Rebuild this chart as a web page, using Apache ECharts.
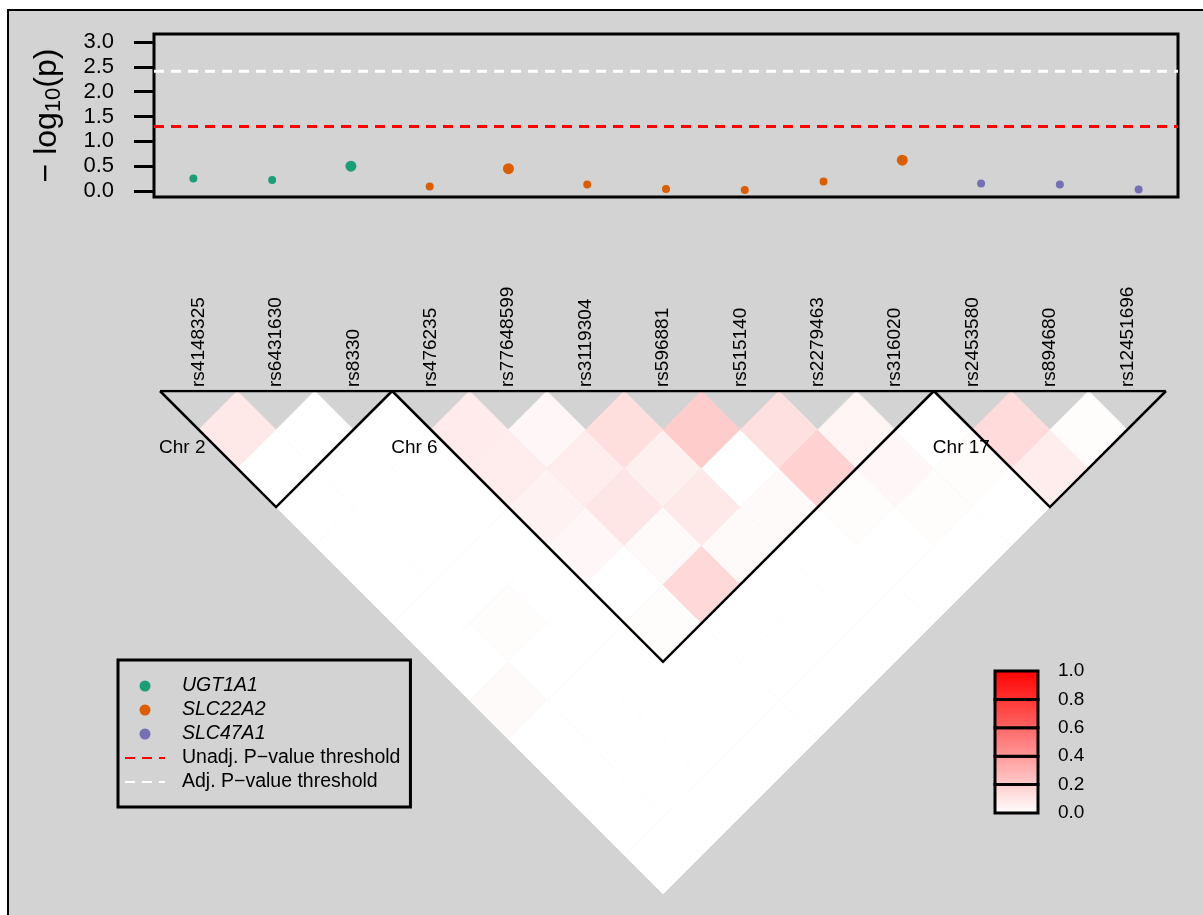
<!DOCTYPE html>
<html>
<head>
<meta charset="utf-8">
<script src="https://cdn.jsdelivr.net/npm/echarts@6/dist/echarts.min.js"></script>
<style>
  html, body { margin: 0; padding: 0; background: #fff; }
  #chart { width: 1203px; height: 915px; }
</style>
</head>
<body>
<div id="chart"></div>
<script>
// SNPs in genomic order
const snpIds = ['rs4148325', 'rs6431630', 'rs8330', 'rs476235', 'rs77648599', 'rs3119304',
  'rs596881', 'rs515140', 'rs2279463', 'rs316020', 'rs2453580', 'rs894680', 'rs12451696'];
const geneOfSnp = ['UGT1A1', 'UGT1A1', 'UGT1A1', 'SLC22A2', 'SLC22A2', 'SLC22A2', 'SLC22A2',
  'SLC22A2', 'SLC22A2', 'SLC22A2', 'SLC47A1', 'SLC47A1', 'SLC47A1'];
const geneNames = ['UGT1A1', 'SLC22A2', 'SLC47A1'];
const geneColors = ['#1B9E77', '#D95F02', '#7570B3'];

// -log10(p) per SNP
const negLog10P = [0.25, 0.22, 0.50, 0.09, 0.45, 0.13, 0.04, 0.02, 0.19, 0.62, 0.15, 0.13, 0.03];
const unadjThreshold = 1.30;
const adjThreshold = 2.41;
const pTicks = [0, 0.5, 1.0, 1.5, 2.0, 2.5, 3.0];

// chromosome blocks (1-based SNP index ranges)
const chromosomes = ['Chr 2', 'Chr 6', 'Chr 17'];
const chromStart = [1, 4, 11];
const chromEnd = [3, 10, 13];

// pairwise LD, row i holds pairs (i, j) for j = i+1 .. 13
const ldRows = [
  [0.09, 0.00, 0, 0, 0, 0, 0, 0.02, 0, 0, 0, 0],
  [0.00, 0, 0, 0, 0, 0.01, 0, 0, 0, 0, 0],
  [0, 0, 0, 0, 0, 0, 0, 0, 0, 0],
  [0.08, 0.07, 0.05, 0.03, 0.00, 0.01, 0, 0, 0],
  [0.03, 0.07, 0.10, 0.02, 0.15, 0, 0, 0],
  [0.13, 0.06, 0.09, 0.02, 0, 0, 0],
  [0.20, 0.00, 0.02, 0, 0, 0],
  [0.12, 0.18, 0.01, 0, 0],
  [0.04, 0.03, 0.01, 0],
  [0, 0.01, 0],
  [0.14, 0.07],
  [0.01]
];
const keyTicks = [0, 0.2, 0.4, 0.6, 0.8, 1.0];

const FONT = '"Liberation Sans", Arial, sans-serif';
const n = snpIds.length;
const ldColor = v => { const c = Math.round(255 * (1 - v)); return 'rgb(255,' + c + ',' + c + ')'; };
// grid point (a, b) of the LD square -> rotated triangle coordinates
const toTri = (a, b) => [(a + b) / 2, (b - a) / 2];

const ldData = [];
ldRows.forEach((row, r) => row.forEach((v, k) => ldData.push([r + 1, r + 2 + k, v])));

const chart = echarts.init(document.getElementById('chart'), null, { renderer: 'canvas' });

const option = {
  animation: false,
  backgroundColor: '#ffffff',
  textStyle: { fontFamily: FONT },
  graphic: [{
    type: 'rect', z: -100,
    shape: { x: 8, y: 10, width: 1210, height: 920 },
    style: { fill: '#d3d3d3', stroke: '#000', lineWidth: 2 }
  }],
  grid: [
    { left: 154, top: 34, width: 1024, height: 163, show: true, borderColor: '#000', borderWidth: 3, backgroundColor: 'transparent' },
    { left: 160, top: 391, width: 1006, height: 503, show: false },
    { left: 995, top: 671, width: 43, height: 142, show: false }
  ],
  xAxis: [
    { gridIndex: 0, type: 'value', min: 0.5, max: 13.5, show: false },
    {
      gridIndex: 1, type: 'value', min: 0, max: n, position: 'top',
      axisLine: { show: false }, axisTick: { show: false }, splitLine: { show: false },
      axisLabel: {
        customValues: snpIds.map((_, k) => k + 0.5),
        formatter: v => snpIds[Math.round(v - 0.5)],
        rotate: 90, margin: 4, fontSize: 19, color: '#000', fontFamily: FONT
      }
    },
    { gridIndex: 2, type: 'value', min: 0, max: 1, show: false }
  ],
  yAxis: [
    {
      gridIndex: 0, type: 'value', min: -0.12, max: 3.16,
      axisLine: { show: false }, splitLine: { show: false },
      axisTick: { show: true, customValues: pTicks, length: 20, lineStyle: { color: '#000', width: 3 } },
      axisLabel: { customValues: pTicks, formatter: v => v.toFixed(1), margin: 40, fontSize: 22, color: '#000', fontFamily: FONT },
      name: '{a|\u2212 log}{s|10}{a|(p)}',
      nameLocation: 'middle', nameRotate: 90, nameGap: 89,
      nameTextStyle: {
        color: '#000', fontSize: 32, fontFamily: FONT,
        rich: {
          a: { fontSize: 32, lineHeight: 34, verticalAlign: 'top', color: '#000', fontFamily: FONT },
          s: { fontSize: 22, lineHeight: 22, padding: [16, 0, 0, 0], verticalAlign: 'bottom', color: '#000', fontFamily: FONT }
        }
      }
    },
    { gridIndex: 1, type: 'value', min: 0, max: n / 2, inverse: true, show: false },
    {
      gridIndex: 2, type: 'value', min: 0, max: 1, interval: 0.2, position: 'right',
      axisLine: { show: false }, axisTick: { show: false }, splitLine: { show: false },
      axisLabel: { formatter: v => v.toFixed(1), margin: 20, fontSize: 19, color: '#000', fontFamily: FONT }
    }
  ],
  legend: {
    orient: 'vertical', left: 118, top: 660,
    padding: [16, 10, 15, 6], itemGap: 4, itemWidth: 40, itemHeight: 11,
    borderColor: '#000', borderWidth: 3, borderRadius: 0, backgroundColor: 'transparent',
    selectedMode: false,
    textStyle: { fontSize: 19.5, color: '#000', lineHeight: 20, fontFamily: FONT, padding: [0, 0, 0, 12] },
    data: [
      { name: 'UGT1A1', icon: 'circle', itemStyle: { opacity: 1 }, textStyle: { fontStyle: 'italic' } },
      { name: 'SLC22A2', icon: 'circle', itemStyle: { opacity: 1 }, textStyle: { fontStyle: 'italic' } },
      { name: 'SLC47A1', icon: 'circle', itemStyle: { opacity: 1 }, textStyle: { fontStyle: 'italic' } },
      { name: 'Unadj. P\u2212value threshold', itemStyle: { opacity: 0 } },
      { name: 'Adj. P\u2212value threshold', itemStyle: { opacity: 0 } }
    ]
  },
  series: [
    ...geneNames.map((g, gi) => ({
      type: 'scatter', name: g, xAxisIndex: 0, yAxisIndex: 0, z: 5,
      data: snpIds.map((_, k) => [k + 1, negLog10P[k]]).filter((_, k) => geneOfSnp[k] === g),
      symbol: 'circle', symbolSize: d => (d[1] >= 0.4 ? 11 : 8),
      itemStyle: { color: geneColors[gi], opacity: 1 }
    })),
    {
      type: 'line', name: 'Unadj. P\u2212value threshold', xAxisIndex: 0, yAxisIndex: 0,
      data: [[0.5, unadjThreshold], [13.5, unadjThreshold]], symbol: 'none',
      lineStyle: { color: '#ff0000', width: 3, type: [10, 7] }, itemStyle: { color: '#ff0000' }
    },
    {
      type: 'line', name: 'Adj. P\u2212value threshold', xAxisIndex: 0, yAxisIndex: 0,
      data: [[0.5, adjThreshold], [13.5, adjThreshold]], symbol: 'none',
      lineStyle: { color: '#ffffff', width: 3, type: [10, 7] }, itemStyle: { color: '#ffffff' }
    },
    {
      // LD heatmap: each pair drawn as a rotated square cell
      type: 'custom', xAxisIndex: 1, yAxisIndex: 1, silent: true, data: ldData,
      renderItem: (params, api) => {
        const i = api.value(0), j = api.value(1), v = api.value(2);
        const pts = [[i - 1, j - 1], [i, j - 1], [i, j], [i - 1, j]].map(p => api.coord(toTri(p[0], p[1])));
        const c = ldColor(v);
        return { type: 'polygon', shape: { points: pts }, style: { fill: c, stroke: c, lineWidth: 0.6 } };
      }
    },
    {
      type: 'line', xAxisIndex: 1, yAxisIndex: 1, silent: true, z: 4,
      data: [[0, 0], [n, 0]], symbol: 'none', lineStyle: { color: '#000', width: 2.5 }
    },
    {
      // chromosome block outlines and names
      type: 'custom', xAxisIndex: 1, yAxisIndex: 1, silent: true, z: 5,
      data: chromosomes.map((c, k) => [chromStart[k], chromEnd[k], k]),
      renderItem: (params, api) => {
        const s = api.value(0), e = api.value(1), k = api.value(2);
        const pts = [toTri(s - 1, s - 1), toTri(s - 1, e), toTri(e, e)].map(p => api.coord(p));
        const lab = api.coord([s - 1, 0.74]);
        return {
          type: 'group', children: [
            { type: 'polyline', shape: { points: pts }, style: { stroke: '#000', lineWidth: 2.5, fill: null } },
            { type: 'text', x: lab[0] - 1, y: lab[1], style: { text: chromosomes[k], fontSize: 19, fontFamily: FONT, fill: '#000', align: 'left', verticalAlign: 'middle' } }
          ]
        };
      }
    },
    {
      // colour key boxes
      type: 'custom', xAxisIndex: 2, yAxisIndex: 2, silent: true, z: 5,
      data: keyTicks.slice(0, -1).map((t, k) => [t, keyTicks[k + 1]]),
      renderItem: (params, api) => {
        const lo = api.value(0), hi = api.value(1);
        const a = api.coord([0, hi]), b = api.coord([1, lo]);
        return {
          type: 'rect',
          shape: { x: a[0], y: a[1], width: b[0] - a[0], height: b[1] - a[1] },
          style: {
            fill: new echarts.graphic.LinearGradient(0, 0, 0, 1, [
              { offset: 0, color: ldColor(hi) }, { offset: 1, color: ldColor(lo) }
            ]),
            stroke: '#000', lineWidth: 3
          }
        };
      }
    }
  ]
};

chart.setOption(option);
</script>
</body>
</html>
